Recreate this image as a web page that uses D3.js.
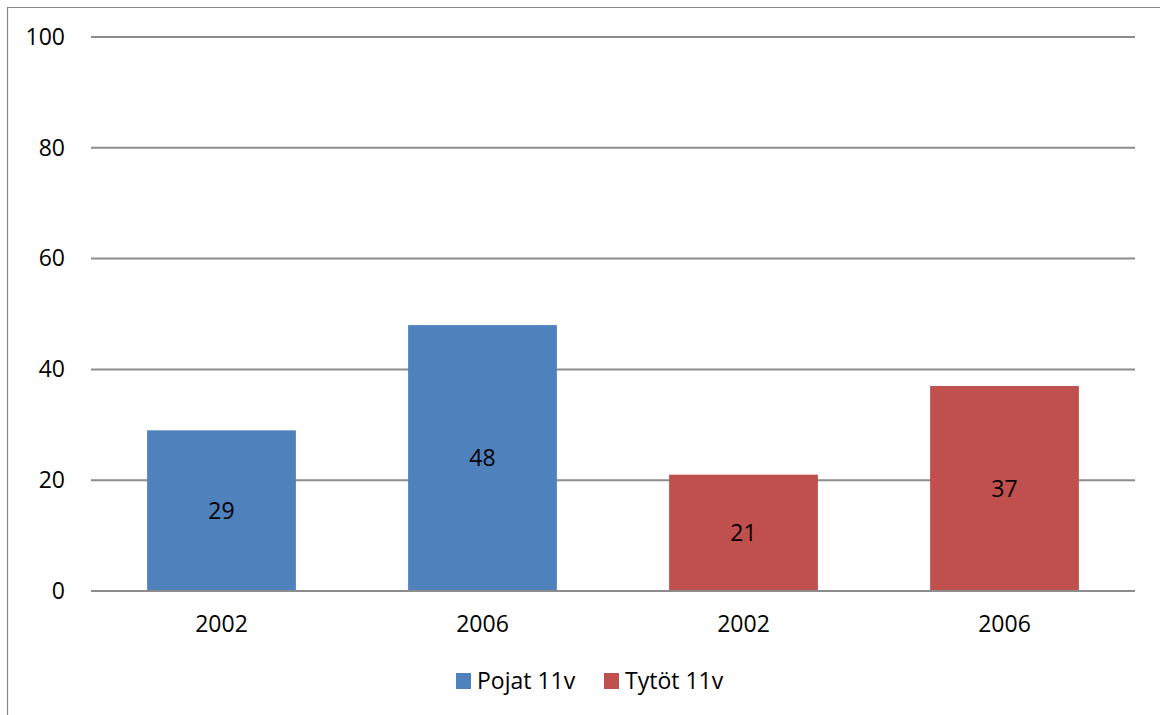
<!DOCTYPE html>
<html>
<head>
<meta charset="utf-8">
<script src="https://cdn.jsdelivr.net/npm/d3@7"></script>
<style>
  html, body { margin: 0; padding: 0; background: #fff; }
  svg { display: block; }
  text { font-family: "Open Sans", "Noto Sans", sans-serif; fill: #000; }
</style>
</head>
<body>
<svg id="chart" width="1160" height="715"></svg>
<script>
// Chart data
const categories = ["2002", "2006", "2002", "2006"];
const values = [29, 48, 21, 37];
const seriesOfBar = [0, 0, 1, 1];
const seriesNames = ["Pojat 11v", "Tytöt 11v"];
const seriesColors = ["#4F81BD", "#C0504D"];
const yTicks = [0, 20, 40, 60, 80, 100];

const svg = d3.select("#chart");
const W = 1160, H = 715;
const plot = { left: 91, right: 1135, top: 37, bottom: 591 };
const fontSize = "23px";

// Outer frame (left and top edges)
svg.append("path")
  .attr("d", `M7.5,${H} V7.5 H${W}`)
  .attr("fill", "none")
  .attr("stroke", "#888")
  .attr("stroke-width", 1.2);

const x = d3.scaleBand()
  .domain(d3.range(categories.length))
  .range([plot.left, plot.right])
  .paddingInner(0.43)
  .paddingOuter(0.215);

const y = d3.scaleLinear().domain([0, 100]).range([plot.bottom, plot.top]);

// Gridlines
svg.append("g")
  .selectAll("line")
  .data(yTicks)
  .join("line")
  .attr("x1", plot.left)
  .attr("x2", plot.right)
  .attr("y1", d => y(d))
  .attr("y2", d => y(d))
  .attr("stroke", "#8c8c8c")
  .attr("stroke-width", 2);

// Y axis labels
const yAxis = d3.axisLeft(y).tickValues(yTicks).tickSize(0).tickPadding(0);
svg.append("g")
  .attr("transform", `translate(65,0)`)
  .call(yAxis)
  .call(g => g.select(".domain").remove())
  .selectAll("text")
  .style("font-size", fontSize)
  .style("font-family", "'Open Sans', sans-serif")
  .attr("fill", "#000");

// Bars
svg.append("g")
  .selectAll("rect")
  .data(values)
  .join("rect")
  .attr("x", (d, i) => x(i))
  .attr("width", x.bandwidth())
  .attr("y", d => y(d))
  .attr("height", d => y(0) - y(d))
  .attr("fill", (d, i) => seriesColors[seriesOfBar[i]]);

// Baseline redrawn over bar bottoms
svg.append("line")
  .attr("x1", plot.left).attr("x2", plot.right)
  .attr("y1", y(0)).attr("y2", y(0))
  .attr("stroke", "#8c8c8c").attr("stroke-width", 2);

// Value labels centred in bars
svg.append("g")
  .selectAll("text")
  .data(values)
  .join("text")
  .attr("x", (d, i) => x(i) + x.bandwidth() / 2)
  .attr("y", d => (y(d) + y(0)) / 2)
  .attr("dy", "0.35em")
  .attr("text-anchor", "middle")
  .style("font-size", fontSize)
  .text(d => d);

// Category labels
const xAxis = d3.axisBottom(x).tickFormat(i => categories[i]).tickSize(0).tickPadding(0);
svg.append("g")
  .attr("transform", `translate(0,${y(0)})`)
  .call(xAxis)
  .call(g => g.select(".domain").remove())
  .selectAll("text")
  .attr("y", 25)
  .attr("dy", "0.71em")
  .style("font-size", fontSize)
  .style("font-family", "'Open Sans', sans-serif")
  .attr("fill", "#000");

// Legend
const legendItems = [
  { name: seriesNames[0], color: seriesColors[0], x: 456 },
  { name: seriesNames[1], color: seriesColors[1], x: 604 }
];
const lg = svg.append("g");
legendItems.forEach(item => {
  lg.append("rect")
    .attr("x", item.x).attr("y", 673)
    .attr("width", 15).attr("height", 16)
    .attr("fill", item.color);
  lg.append("text")
    .attr("x", item.x + 21).attr("y", 689)
    .style("font-size", fontSize)
    .text(item.name);
});
</script>
</body>
</html>
